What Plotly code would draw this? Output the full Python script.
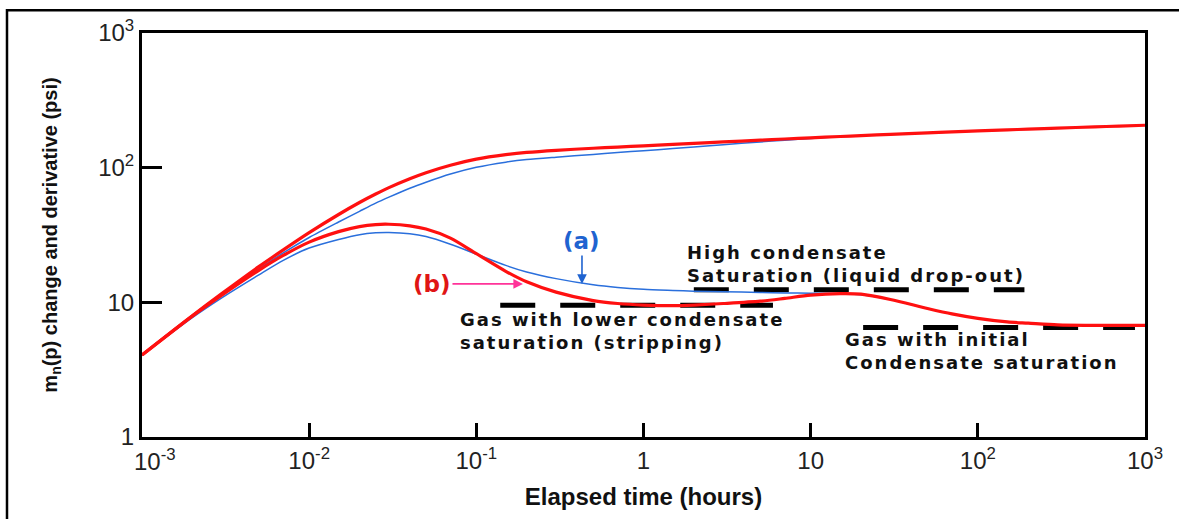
import plotly.graph_objects as go

# Elapsed time grid (hours)
elapsed_hours = [0.001, 0.002, 0.003, 0.005, 0.007, 0.01, 0.015, 0.02, 0.025, 0.03,
                 0.04, 0.05, 0.07, 0.1, 0.15, 0.2, 0.3, 0.5, 0.7, 1,
                 1.5, 2, 3, 5, 7, 10, 15, 20, 30, 50,
                 70, 100, 150, 200, 300, 500, 700, 1000]

# Case (b): lower condensate saturation near the well (stripping)
change_b = [4.06, 7.95, 11.6, 18.4, 24.5, 32.9, 44.9, 55.1, 63.7, 71.1,
            82.8, 91.8, 104.3, 115.7, 124.9, 129.7, 134.5, 139.4, 142.2, 145.3,
            148.9, 151.5, 155.2, 160, 163.2, 166.6, 170.4, 173.1, 176.8, 181.4,
            184.4, 187.4, 190.8, 193.2, 196.7, 200.9, 203.7, 206.6]
deriv_b = [4.06, 7.9, 11.3, 17.3, 22.3, 28, 33.5, 36.5, 37.8, 38,
           37, 35, 30, 23, 17, 14.2, 11.9, 10.3, 9.8, 9.55,
           9.45, 9.55, 9.8, 10.2, 10.7, 11.3, 11.6, 11.5, 10.5, 9.0,
           8.2, 7.6, 7.15, 7.0, 6.8, 6.75, 6.75, 6.75]

# Case (a): high condensate saturation (liquid drop-out)
change_a = [4.06, 7.9, 11.3, 17.7, 23.3, 30.3, 39.5, 47.4, 54.5, 60.4,
            70.4, 78, 89.7, 100.7, 109.9, 114.8, 119.7, 125.5, 129.4, 133.7,
            138.5, 142.4, 148.2, 155.2, 160, 165, 169.5, 173.1, 176.8, 181.4,
            184.4, 187.4, 190.8, 193.2, 196.7, 200.9, 203.7, 206.6]
deriv_a = [4.06, 7.7, 10.8, 16, 20.5, 25.3, 29.3, 31.8, 32.8, 33,
           32.3, 30.8, 27, 22.8, 18.8, 16.8, 15, 13.5, 12.9, 12.5,
           12.25, 12.1, 12.0, 11.85, 11.75, 11.7, 11.6, 11.4, 10.5, 9.0,
           8.2, 7.6, 7.15, 7.0, 6.8, 6.75, 6.75, 6.75]

# Derivative stabilisation levels
stabilisation_names = ["high", "lower", "initial"]
stabilisation_start = [2.0, 0.139, 20.6]
stabilisation_end = [190, 5.95, 871]
stabilisation_level = [12.4, 9.5, 6.5]

x_tickvals = [0.001, 0.01, 0.1, 1, 10, 100, 1000]
x_ticktext = ["10<sup>-3</sup>", "10<sup>-2</sup>", "10<sup>-1</sup>", "1", "10",
              "10<sup>2</sup>", "10<sup>3</sup>"]
y_tickvals = [1, 10, 100, 1000]
y_ticktext = ["1", "10", "10<sup>2</sup>", "10<sup>3</sup>"]

RED = "#ff1010"
BLUE = "#2a6fdc"
TICK_FONT = dict(family="Liberation Sans", size=24, color="#222222")

fig = go.Figure()

for name, t0, t1, lvl in zip(stabilisation_names, stabilisation_start,
                             stabilisation_end, stabilisation_level):
    fig.add_trace(go.Scatter(
        x=[t0, t1], y=[lvl, lvl], mode="lines", name=name,
        line=dict(color="black", width=5, dash="35px,25px"),
        showlegend=False, hoverinfo="skip"))

for y, color, width in [(change_a, BLUE, 1.5), (deriv_a, BLUE, 1.5),
                        (change_b, RED, 3.2), (deriv_b, RED, 3.2)]:
    fig.add_trace(go.Scatter(
        x=elapsed_hours, y=y, mode="lines",
        line=dict(color=color, width=width, shape="spline", smoothing=0.8),
        showlegend=False))

label_font = dict(family="DejaVu Sans", size=18, color="#111111", weight="bold")

fig.add_annotation(x=0.248, y=1.288, xref="x", yref="y", showarrow=False,
                   xanchor="left", yanchor="middle", align="left",
                   text="High condensate<br>Saturation (liquid drop-out)", font=label_font)
fig.add_annotation(x=-1.110, y=0.785, xref="x", yref="y", showarrow=False,
                   xanchor="left", yanchor="middle", align="left",
                   text="Gas with lower condensate<br>saturation (stripping)", font=label_font)
fig.add_annotation(x=1.193, y=0.635, xref="x", yref="y", showarrow=False,
                   xanchor="left", yanchor="middle", align="left",
                   text="Gas with initial<br>Condensate saturation", font=label_font)

# Case markers with arrows
fig.add_annotation(x=-0.368, y=1.137, xref="x", yref="y", text="(a)",
                   showarrow=True, ax=0, ay=-43, arrowhead=2, arrowsize=1.2,
                   arrowwidth=1.6, arrowcolor="#1f63d0",
                   font=dict(family="DejaVu Sans", size=23, color="#1f63d0", weight="bold"))
fig.add_annotation(x=-0.721, y=1.137, xref="x", yref="y", text="(b)",
                   showarrow=True, ax=-91, ay=0, arrowhead=2, arrowsize=1.2,
                   arrowwidth=1.6, arrowcolor="#ff3399",
                   font=dict(family="DejaVu Sans", size=23, color="#e01515", weight="bold"))

# First x tick label sits right of the corner, clear of the "1" on the y axis
fig.add_annotation(x=-3, y=0, xref="x", yref="paper", text=x_ticktext[0],
                   showarrow=False, xanchor="left", yanchor="top",
                   xshift=-10, yshift=-6, font=TICK_FONT)
x_ticktext_axis = [""] + x_ticktext[1:]

# Outer frame around the figure
fig.add_shape(type="rect", xref="paper", yref="paper",
              x0=-0.1346, x1=1.06, y0=-0.3, y1=1.0562,
              line=dict(color="black", width=2.5))

axis_common = dict(type="log", showgrid=False, zeroline=False, showline=True,
                   linecolor="black", linewidth=3, mirror=True, ticks="inside",
                   tickwidth=3, tickcolor="black", tickfont=TICK_FONT)

fig.update_xaxes(**axis_common, range=[-3, 3], tickvals=x_tickvals,
                 ticktext=x_ticktext_axis, ticklen=14,
                 title=dict(text="Elapsed time (hours)", standoff=16,
                            font=dict(family="Liberation Sans Narrow, Liberation Sans",
                                      size=24, color="#111111", weight="bold")))
fig.update_yaxes(**axis_common, range=[0, 3], tickvals=y_tickvals, ticktext=y_ticktext,
                 ticklen=20,
                 title=dict(text="m<sub>n</sub>(p) change and derivative (psi)", standoff=36,
                            font=dict(family="Liberation Sans Narrow, Liberation Sans",
                                      size=20, color="#111111", weight="bold")))

fig.update_layout(width=1179, height=519, autosize=False,
                  margin=dict(l=142, r=34, t=33, b=77),
                  plot_bgcolor="white", paper_bgcolor="white")

# Widen the letter spacing of the left-aligned regime labels
spacing_js = """
document.querySelectorAll('.annotation-text').forEach(function (el) {
    if (el.getAttribute('text-anchor') === 'start' && el.textContent.length > 12) {
        el.style.letterSpacing = '2px';
    }
});
"""

fig.write_html("out.html", post_script=spacing_js)
